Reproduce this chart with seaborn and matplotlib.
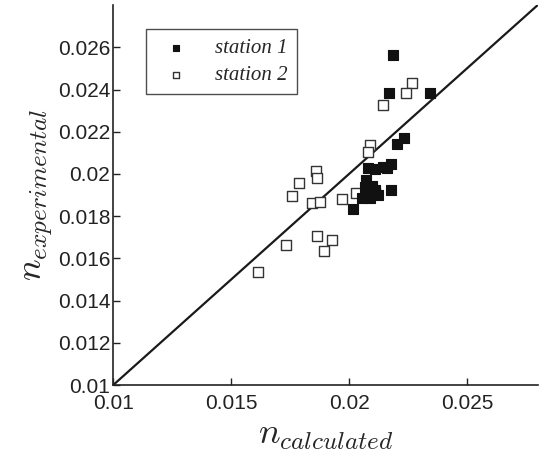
import numpy as np
import pandas as pd
import matplotlib
matplotlib.use("Agg")
import matplotlib.pyplot as plt
import seaborn as sns

# station 1 (filled squares)
s1_calc = [0.02188, 0.02170, 0.02345, 0.02233, 0.02203, 0.02144, 0.02180, 0.02160,
           0.02081, 0.02109, 0.02074, 0.02067, 0.02081, 0.02123, 0.02088, 0.02053,
           0.02177, 0.02017, 0.02096, 0.02112]
s1_exp = [0.02564, 0.02385, 0.02385, 0.02172, 0.02141, 0.02035, 0.02046, 0.02030,
          0.02027, 0.02024, 0.01972, 0.01940, 0.01916, 0.01900, 0.01885, 0.01885,
          0.01924, 0.01834, 0.01943, 0.01925]

# station 2 (open squares)
s2_calc = [0.02266, 0.02240, 0.02143, 0.02091, 0.02081, 0.01862, 0.01866, 0.01786,
           0.01757, 0.01845, 0.01876, 0.01969, 0.02031, 0.01866, 0.01930, 0.01893,
           0.01732, 0.01616, 0.02110]
s2_exp = [0.02430, 0.02382, 0.02327, 0.02139, 0.02104, 0.02014, 0.01981, 0.01957,
          0.01894, 0.01863, 0.01867, 0.01882, 0.01911, 0.01708, 0.01686, 0.01637,
          0.01664, 0.01537, 0.01912]

diag = [0.01, 0.028]
xticks = [0.01, 0.015, 0.02, 0.025]
yticks = [0.01, 0.012, 0.014, 0.016, 0.018, 0.02, 0.022, 0.024, 0.026]

sns.set_style("ticks")
plt.rcParams['font.family'] = ['Liberation Sans', 'DejaVu Sans']
plt.rcParams['mathtext.fontset'] = 'cm'

fig = plt.figure(figsize=(5.41, 4.58), dpi=100)
ax = fig.add_axes([0.209, 0.159, 0.785, 0.830])

sns.lineplot(x=diag, y=diag, ax=ax, color='#1a1a1a', linewidth=1.6)

df1 = pd.DataFrame({'calc': s1_calc, 'exp': s1_exp})
df2 = pd.DataFrame({'calc': s2_calc, 'exp': s2_exp})
sns.scatterplot(data=df2, x='calc', y='exp', ax=ax, marker='s', s=42,
                facecolor='white', edgecolor='#333333', linewidth=1.0,
                label='station 2', zorder=3)
sns.scatterplot(data=df1, x='calc', y='exp', ax=ax, marker='s', s=42,
                color='#111111', edgecolor='#111111', linewidth=0.8,
                label='station 1', zorder=4)

ax.set_xlim(0.01, 0.028)
ax.set_ylim(0.01, 0.028)
ax.set_xticks(xticks)
ax.set_xticklabels(['0.01', '0.015', '0.02', '0.025'])
ax.set_yticks(yticks)
ax.set_yticklabels(['0.01', '0.012', '0.014', '0.016', '0.018', '0.02',
                    '0.022', '0.024', '0.026'])
ax.tick_params(direction='in', length=5, width=1, labelsize=15, colors='#222222')
ax.tick_params(axis='x', pad=6)
ax.tick_params(axis='y', pad=2)
sns.despine(ax=ax)
for sp in ['left', 'bottom']:
    ax.spines[sp].set_linewidth(1.2)
    ax.spines[sp].set_color('#222222')

ax.set_xlabel(r'$n_{calculated}$', fontsize=26, labelpad=3)
ax.set_ylabel(r'$n_{experimental}$', fontsize=26, labelpad=2)

handles, labels = ax.get_legend_handles_labels()
order = [labels.index('station 1'), labels.index('station 2')]
leg = ax.legend([handles[i] for i in order], [labels[i] for i in order],
                loc='upper left', bbox_to_anchor=(0.052, 0.964),
                frameon=True, fancybox=False, edgecolor='#222222',
                prop={'family': 'Liberation Serif', 'style': 'italic', 'size': 15},
                handletextpad=0.9, borderpad=0.45, labelspacing=0.35,
                handlelength=2.0, markerscale=0.75)
leg.get_frame().set_linewidth(1.0)

fig.savefig('out.png', dpi=100)
